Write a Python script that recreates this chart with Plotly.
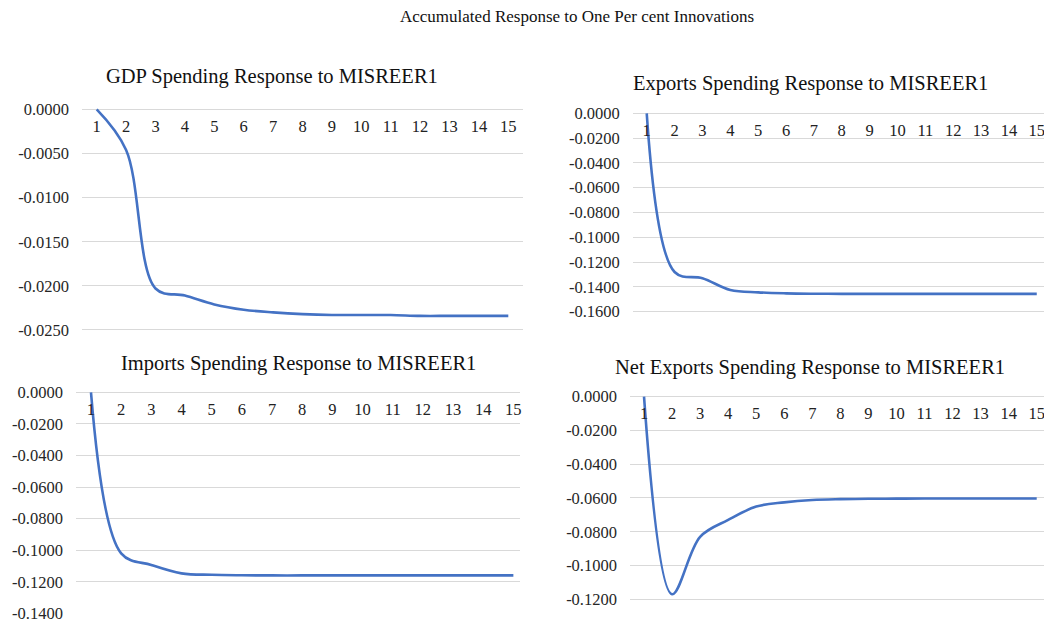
import plotly.graph_objects as go

W, H = 1044, 622
OFFX, OFFY = 0, 0  # body margin removed via post_script

periods = list(range(1, 16))
gdp = [0.0, -0.0046, -0.0203, -0.0211, -0.0221, -0.0227, -0.0230, -0.0232,
       -0.0233, -0.0233, -0.0233, -0.0234, -0.0234, -0.0234, -0.0234]
exports = [0.0, -0.128, -0.133, -0.1425, -0.1444, -0.1452, -0.1455, -0.1456,
           -0.1456, -0.1456, -0.1456, -0.1456, -0.1456, -0.1456, -0.1456]
imports = [0.0, -0.102, -0.1094, -0.1147, -0.1156, -0.1159, -0.1160, -0.1160,
           -0.1160, -0.1160, -0.1160, -0.1160, -0.1160, -0.1160, -0.1160]
net_exports = [0.0, -0.117, -0.083, -0.073, -0.0651, -0.0626, -0.0612, -0.0607,
               -0.0605, -0.0604, -0.0603, -0.0603, -0.0603, -0.0603, -0.0603]

titles = ["GDP Spending Response to MISREER1",
          "Exports Spending Response to MISREER1",
          "Imports Spending Response to MISREER1",
          "Net Exports Spending Response to MISREER1"]
main_title = "Accumulated Response to One Per cent Innovations"

gdp_ticks = [0.0, -0.005, -0.010, -0.015, -0.020, -0.025]
exp_ticks = [0.0, -0.02, -0.04, -0.06, -0.08, -0.10, -0.12, -0.14, -0.16]
imp_ticks = [0.0, -0.02, -0.04, -0.06, -0.08, -0.10, -0.12, -0.14]
net_ticks = [0.0, -0.02, -0.04, -0.06, -0.08, -0.10, -0.12, -0.14]

series = [gdp, exports, imports, net_exports]
ticks = [gdp_ticks, exp_ticks, imp_ticks, net_ticks]

# layout geometry (target screen pixels)
panels = [
    dict(left=82, step=29.4, xhi=15.5, y0=109.3, scale=8828, ylo=-0.0253, yhi=0.0004,
         tx=272, ty=77),
    dict(left=632.8, step=27.86, xhi=15.26, y0=113.3, scale=1240, ylo=-0.1615, yhi=0.0015,
         tx=810, ty=84),
    dict(left=75.9, step=30.17, xhi=15.22, y0=392.3, scale=1578.6, ylo=-0.1405, yhi=0.001,
         tx=298, ty=363),
    dict(left=630, step=28.05, xhi=15.26, y0=396.7, scale=1688, ylo=-0.1334, yhi=0.001,
         tx=810, ty=367),
]


def px(x):
    return (x - OFFX) / W


def py(y):
    return 1 - (y - OFFY) / H


SERIF = "Liberation Serif"
fig = go.Figure()
annotations = []
layout = {}
for i, (p, ys, tk, ttl) in enumerate(zip(panels, series, ticks, titles)):
    n = "" if i == 0 else str(i + 1)
    xl = p["left"]
    xr = p["left"] + (p["xhi"] - 0.5) * p["step"]
    xdom = [max(0, px(xl)), min(1, px(xr))]
    top = p["y0"] - p["yhi"] * p["scale"]
    bot = p["y0"] - p["ylo"] * p["scale"]
    ydom = [max(0, py(bot)), min(1, py(top))]
    zero_pos = py(p["y0"])
    fig.add_trace(go.Scatter(x=periods, y=ys, mode="lines",
                             line=dict(color="#4472C4", width=2.6, shape="spline", smoothing=1.0),
                             xaxis="x" + n, yaxis="y" + n, showlegend=False,
                             hoverinfo="x+y"))
    layout["xaxis" + n] = dict(domain=xdom, range=[0.5, p["xhi"]], anchor="free",
                               position=zero_pos, tickmode="array", tickvals=periods,
                               ticktext=[str(v) for v in periods], showgrid=False,
                               zeroline=False, showline=False, ticks="",
                               ticklabelstandoff=5, automargin=False,
                               ticklabeloverflow="allow",
                               tickfont=dict(family=SERIF, size=16.5, color="#222"),
                               fixedrange=True)
    layout["yaxis" + n] = dict(domain=ydom, range=[p["ylo"], p["yhi"]], anchor="x" + n,
                               tickmode="array", tickvals=tk,
                               ticktext=[f"{v:.4f}" if v != 0 else "0.0000" for v in tk],
                               showgrid=True, gridcolor="#d9d9d9", gridwidth=1,
                               zeroline=False, showline=False, ticks="",
                               ticklabelstandoff=12, automargin=False,
                               ticklabeloverflow="allow",
                               tickfont=dict(family=SERIF, size=16.5, color="#262626"),
                               fixedrange=True)
    annotations.append(dict(text=ttl, x=px(p["tx"]), y=py(p["ty"]), xref="paper",
                            yref="paper", showarrow=False, xanchor="center", yanchor="middle",
                            font=dict(family=SERIF, size=20.5, color="#111")))

annotations.append(dict(text=main_title, x=px(577), y=py(17), xref="paper", yref="paper",
                        showarrow=False, xanchor="center", yanchor="middle",
                        font=dict(family=SERIF, size=17, color="#111")))

fig.update_layout(width=W, height=H,
                  margin=dict(l=0, r=0, t=0, b=0, autoexpand=False),
                  paper_bgcolor="white", plot_bgcolor="white",
                  annotations=annotations, **layout)
fig.write_html("out.html", config={"displayModeBar": False},
               post_script="document.body.style.margin='0';document.body.style.overflow='hidden';")
